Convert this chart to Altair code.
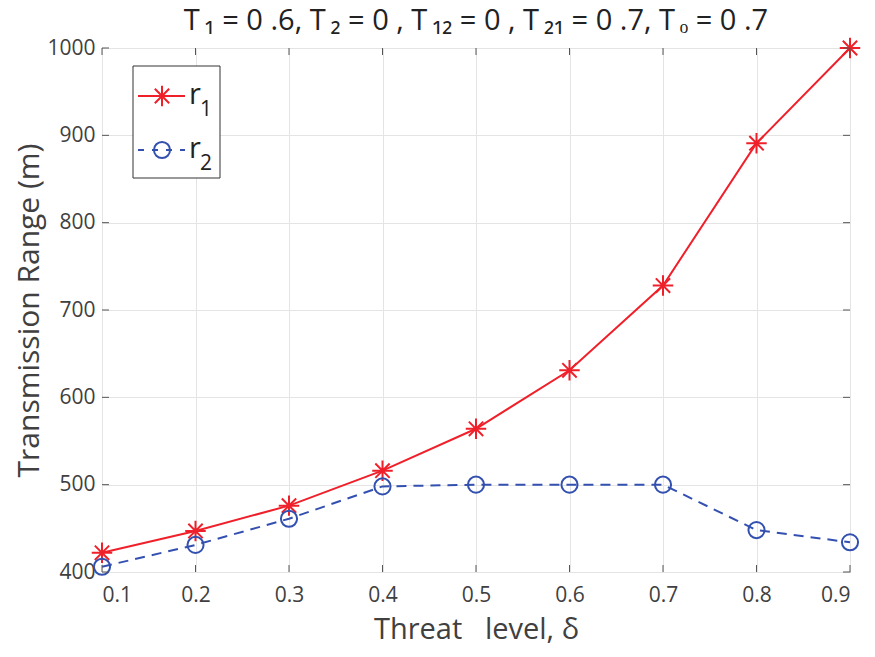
import altair as alt
import pandas as pd

# Threat level and resulting transmission ranges
delta = [0.1, 0.2, 0.3, 0.4, 0.5, 0.6, 0.7, 0.8, 0.9]
r1 = [422, 447, 476, 516, 564, 631, 728, 891, 1000]
r2 = [406, 431, 461, 498, 500, 500, 500, 448, 434]

x_ticks = [0.1, 0.2, 0.3, 0.4, 0.5, 0.6, 0.7, 0.8, 0.9]
y_ticks = [400, 500, 600, 700, 800, 900, 1000]

TITLE = ("T\u2009₁ = 0 .6, T\u2009₂ = 0 , T\u2009₁₂ = 0 , "
         "T\u2009₂₁ = 0 .7, T\u2009ₒ = 0 .7")

RED = "#f0202a"
BLUE = "#3350b0"
TEXT = "#404040"
FONT = "Open Sans"
W, H = 748, 524

# eight-spoke asterisk marker
ASTERISK = "M-1,0L1,0M0,-1L0,1M-0.7,-0.7L0.7,0.7M-0.7,0.7L0.7,-0.7"

df = pd.DataFrame({"delta": delta, "r1": r1, "r2": r2})
ticks_x = pd.DataFrame({"t": x_ticks})
ticks_y = pd.DataFrame({"t": y_ticks})

xs = alt.Scale(domain=[0.1, 0.9], nice=False, zero=False)
ys = alt.Scale(domain=[400, 1000], nice=False, zero=False)

X = alt.X("delta:Q", scale=xs,
          axis=alt.Axis(values=x_ticks, format=".1f",
                        title="Threat\u00a0\u00a0 level, δ",
                        grid=True, tickSize=0, domain=False, labelPadding=12,
                        titlePadding=10, titleFontSize=29))
base = alt.Chart(df)

line1 = base.mark_line(color=RED, strokeWidth=2).encode(
    x=X,
    y=alt.Y("r1:Q", scale=ys,
            axis=alt.Axis(values=y_ticks, format="d", title="Transmission Range (m)",
                          grid=True, tickSize=0, domain=False, labelPadding=7,
                          titlePadding=2, titleFontSize=30)),
)
pts1 = base.mark_point(shape=ASTERISK, color=RED, size=420, strokeWidth=2,
                       filled=False, opacity=1).encode(x="delta:Q", y="r1:Q")
line2 = base.mark_line(color=BLUE, strokeWidth=2, strokeDash=[10, 7]).encode(
    x="delta:Q", y="r2:Q")
pts2 = base.mark_point(shape="circle", color=BLUE, size=260, strokeWidth=2,
                       filled=False, opacity=1).encode(x="delta:Q", y="r2:Q")

# inward ticks on all four sides
TC = "#555555"
tx_bot = alt.Chart(ticks_x).mark_rule(color=TC, strokeWidth=1).encode(
    x="t:Q", y=alt.value(H), y2=alt.value(H - 7))
tx_top = alt.Chart(ticks_x).mark_rule(color=TC, strokeWidth=1).encode(
    x="t:Q", y=alt.value(0), y2=alt.value(7))
ty_left = alt.Chart(ticks_y).mark_rule(color=TC, strokeWidth=1).encode(
    y="t:Q", x=alt.value(0), x2=alt.value(7))
ty_right = alt.Chart(ticks_y).mark_rule(color=TC, strokeWidth=1).encode(
    y="t:Q", x=alt.value(W), x2=alt.value(W - 7))

one = pd.DataFrame({"k": [0]})

# heading above the plot
heading = alt.Chart(one).mark_text(text=TITLE, font=FONT, fontSize=29, color="#222222",
                                   align="center", baseline="alphabetic").encode(
    x=alt.value(W / 2), y=alt.value(-18))

# legend box
leg_box = alt.Chart(one).mark_rect(fill="white", stroke="#333333", strokeWidth=1).encode(
    x=alt.value(31), x2=alt.value(118), y=alt.value(18), y2=alt.value(130))

legend_layers = [leg_box]
entries = [
    ("1", RED, [], ASTERISK, 420, 48),
    ("2", BLUE, [6, 8], "circle", 260, 102),
]
for sub, col, dash, shp, sz, yy in entries:
    ln = alt.Chart(one).mark_rule(color=col, strokeWidth=2, strokeDash=dash or [1, 0]).encode(
        x=alt.value(36), x2=alt.value(83), y=alt.value(yy))
    mk = alt.Chart(one).mark_point(shape=shp, color=col, size=sz, strokeWidth=2,
                                   filled=False, opacity=1).encode(
        x=alt.value(60), y=alt.value(yy))
    t1 = alt.Chart(one).mark_text(text="r", font=FONT, fontSize=29, color="#222222",
                                  align="left", baseline="alphabetic").encode(
        x=alt.value(87), y=alt.value(yy + 8))
    t2 = alt.Chart(one).mark_text(text=sub, font=FONT, fontSize=21, color="#222222",
                                  align="left", baseline="alphabetic").encode(
        x=alt.value(98), y=alt.value(yy + 20))
    legend_layers += [ln, mk, t1, t2]

chart = alt.layer(
    line1, line2, pts1, pts2, tx_bot, tx_top, ty_left, ty_right, heading, *legend_layers
).properties(
    width=W, height=H,
    autosize=alt.AutoSizeParams(type="none"),
    padding={"left": 102, "top": 48, "right": 25, "bottom": 85},
    background="white",
).configure_view(
    stroke="#555555", strokeWidth=1
).configure_axis(
    labelFont=FONT, titleFont=FONT, labelFontSize=21,
    labelColor=TEXT, titleColor=TEXT, titleFontWeight="normal",
    gridColor="#e4e4e4", gridWidth=1,
)

chart.save("out.html", embed_options={"renderer": "svg", "actions": False})
